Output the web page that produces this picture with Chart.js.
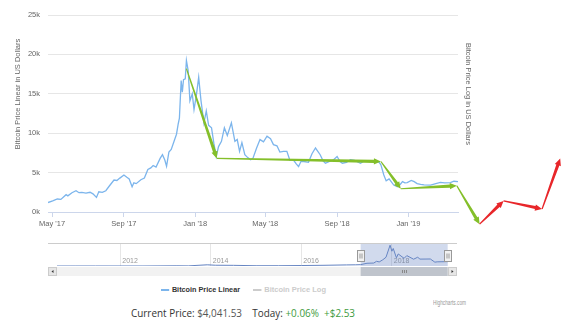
<!DOCTYPE html>
<html>
<head>
<meta charset="utf-8">
<script src="https://cdn.jsdelivr.net/npm/chart.js@4.4.1/dist/chart.umd.min.js"></script>
<style>
  body { margin: 0; background: #fff; width: 566px; height: 328px; overflow: hidden; position: relative;
         font-family: 'Liberation Sans', Arial, sans-serif; }
  canvas { position: absolute; left: 0; }
  #mainChart { top: 0; }
  #navChart { top: 240px; }
  .fit { position: absolute; white-space: nowrap; transform-origin: left center; }
  .legend-item { font-size: 8px; font-weight: bold; top: 285px; }
  .swatch { display: inline-block; width: 9px; height: 1.5px; vertical-align: middle; margin-right: 3px; }
  #credits { top: 299px; left: 433px; font-size: 7px; color: #999; }
  #price { top: 306px; left: 131px; font-family: 'Open Sans', sans-serif; font-size: 10.5px; color: #333; }
  #price .val { color: #555; }
  #price .up { color: #3e9b3e; }
</style>
</head>
<body>
<canvas id="mainChart" width="566" height="232"></canvas>
<canvas id="navChart" width="566" height="40"></canvas>
<div id="legend"></div>
<div id="credits" class="fit">Highcharts.com</div>
<div id="price" class="fit">Current Price: <span class="val">$4,041.53</span>&nbsp;&nbsp;&nbsp; Today: <span class="up">+0.06%&nbsp;&nbsp;+$2.53</span></div>
<script>
const priceDates = [
  '2017-04-24', '2017-05-02', '2017-05-10', '2017-05-16', '2017-05-25', '2017-05-28', '2017-06-04', '2017-06-11',
  '2017-06-16', '2017-06-21', '2017-06-28', '2017-07-05', '2017-07-10', '2017-07-16', '2017-07-20', '2017-07-26',
  '2017-08-01', '2017-08-07', '2017-08-15', '2017-08-20', '2017-08-25', '2017-09-01', '2017-09-06', '2017-09-10',
  '2017-09-15', '2017-09-18', '2017-09-22', '2017-09-30', '2017-10-06', '2017-10-12', '2017-10-17', '2017-10-21',
  '2017-10-26', '2017-11-02', '2017-11-06', '2017-11-10', '2017-11-13', '2017-11-17', '2017-11-21', '2017-11-26',
  '2017-11-30', '2017-12-03', '2017-12-05', '2017-12-08', '2017-12-10', '2017-12-12', '2017-12-15', '2017-12-17',
  '2017-12-20', '2017-12-23', '2017-12-27', '2017-12-30', '2018-01-03', '2018-01-07', '2018-01-11', '2018-01-16',
  '2018-01-20', '2018-01-24', '2018-01-29', '2018-02-02', '2018-02-06', '2018-02-10', '2018-02-15', '2018-02-20',
  '2018-02-25', '2018-03-04', '2018-03-10', '2018-03-14', '2018-03-18', '2018-03-22', '2018-03-27', '2018-04-01',
  '2018-04-06', '2018-04-10', '2018-04-16', '2018-04-22', '2018-04-28', '2018-05-04', '2018-05-10', '2018-05-15',
  '2018-05-21', '2018-05-26', '2018-06-01', '2018-06-07', '2018-06-12', '2018-06-18', '2018-06-23', '2018-06-27',
  '2018-07-01', '2018-07-06', '2018-07-14', '2018-07-20', '2018-07-26', '2018-08-03', '2018-08-08', '2018-08-12',
  '2018-08-18', '2018-08-26', '2018-09-01', '2018-09-06', '2018-09-10', '2018-09-17', '2018-09-24', '2018-10-01',
  '2018-10-11', '2018-10-18', '2018-10-28', '2018-11-06', '2018-11-12', '2018-11-15', '2018-11-20', '2018-11-24',
  '2018-11-29', '2018-12-07', '2018-12-13', '2018-12-18', '2018-12-22', '2018-12-26', '2018-12-30', '2019-01-06',
  '2019-01-11', '2019-01-16', '2019-01-22', '2019-01-28', '2019-02-08', '2019-02-17', '2019-02-25', '2019-03-04',
  '2019-03-14', '2019-03-20', '2019-03-27'
];
const priceValues = [
  1200, 1400, 1650, 1600, 2200, 2050, 2450, 2700,
  2450, 2500, 2400, 2500, 2300, 1850, 2560, 2500,
  2700, 3300, 4060, 4000, 4300, 4700, 4400, 4200,
  3200, 3700, 3600, 4100, 4300, 5400, 5600, 5900,
  5700, 6800, 7270, 6600, 5800, 7600, 7950, 9000,
  9870, 11200, 11900, 16670, 15200, 16800, 16900, 19230,
  17950, 14100, 15000, 13000, 14800, 17090, 14100, 11300,
  12820, 11000, 10680, 8700, 7050, 8300, 8970, 10680,
  9700, 11320, 8970, 9200, 7690, 8800, 7270, 6900,
  6630, 6830, 8100, 9190, 8900, 9620, 9300, 8550,
  8400, 7600, 7690, 7700, 6600, 6630, 6100, 5770,
  6400, 6410, 6300, 7400, 8120, 7270, 6500, 6190,
  6400, 6630, 7050, 6400, 6190, 6300, 6630, 6550,
  6190, 6500, 6410, 6450, 6300, 5990, 4700, 3950,
  4200, 3420, 3200, 3500, 3850, 3700, 3720, 4000,
  3850, 3600, 3500, 3450, 3420, 3600, 3760, 3700,
  3720, 3900, 3850
];

const xTickDates = ['2017-05-01', '2017-09-01', '2018-01-01', '2018-05-01', '2018-09-01', '2019-01-01'];
const xTickLabels = ["May '17", "Sep '17", "Jan '18", "May '18", "Sep '18", "Jan '19"];
const yTickValues = [0, 5000, 10000, 15000, 20000, 25000];

// hand drawn trend arrows, one colour per segment
const trendDates = ['2017-12-17', '2018-02-07', '2018-11-15', '2018-12-19', '2019-03-25', '2019-05-03', '2019-06-13', '2019-08-18', '2019-09-18'];
const trendValues = [18200, 6800, 6410, 2950, 3330, -1540, 1410, 385, 6790];
const trendColors = ['#84bf2a', '#84bf2a', '#84bf2a', '#84bf2a', '#84bf2a', '#e8262a', '#e8262a', '#e8262a'];

// navigator: whole history, fractional years
const navYears = [2010.6, 2011.0, 2011.45, 2012.5, 2013.25, 2013.5, 2013.92, 2014.1, 2014.5, 2015.0, 2015.5, 2016.0, 2016.5,
  2017.0, 2017.2, 2017.31, 2017.45, 2017.6, 2017.66, 2017.72, 2017.8, 2017.87, 2017.96, 2018.0, 2018.03, 2018.1,
  2018.14, 2018.27, 2018.33, 2018.48, 2018.57, 2018.62, 2018.85, 2018.95, 2019.0, 2019.24];
const navValues = [0, 1, 25, 10, 200, 100, 1100, 700, 600, 250, 260, 430, 650,
  1000, 1100, 1250, 2500, 2700, 4300, 3700, 5700, 8000, 19000, 13500, 16000, 7500,
  11000, 7000, 9500, 6200, 8000, 6300, 6400, 3500, 3800, 4000];
const navTickYears = [2012, 2014, 2016, 2018];

const leftTitle = 'Bitcoin Price Linear in US Dollars';
const rightTitle = 'Bitcoin Price Log in US Dollars';

Chart.defaults.font.family = "'Liberation Sans', Arial, sans-serif";

const toYear = (s) => {
  const d = Date.parse(s);
  const y = new Date(d).getUTCFullYear();
  const start = Date.UTC(y, 0, 1);
  return y + (d - start) / (Date.UTC(y + 1, 0, 1) - start);
};

const drawArrow = (ctx, x0, y0, x1, y1, color) => {
  const len = Math.hypot(x1 - x0, y1 - y0);
  const ux = (x1 - x0) / len, uy = (y1 - y0) / len;
  const nx = -uy, ny = ux;
  const head = 7, headW = 3.2, w0 = 0.6, w1 = 1.6;
  const bx = x1 - ux * head, by = y1 - uy * head;
  ctx.fillStyle = color;
  ctx.beginPath();
  ctx.moveTo(x0 + nx * w0, y0 + ny * w0);
  ctx.lineTo(bx + nx * w1, by + ny * w1);
  ctx.lineTo(bx + nx * headW, by + ny * headW);
  ctx.lineTo(x1, y1);
  ctx.lineTo(bx - nx * headW, by - ny * headW);
  ctx.lineTo(bx - nx * w1, by - ny * w1);
  ctx.lineTo(x0 - nx * w0, y0 - ny * w0);
  ctx.closePath();
  ctx.fill();
};

const trendPlugin = {
  id: 'trendArrows',
  afterDatasetsDraw(chart) {
    const { ctx, scales: { x, y } } = chart;
    ctx.save();
    for (let i = 0; i < trendColors.length; i++) {
      drawArrow(ctx,
        x.getPixelForValue(Date.parse(trendDates[i])), y.getPixelForValue(trendValues[i]),
        x.getPixelForValue(Date.parse(trendDates[i + 1])), y.getPixelForValue(trendValues[i + 1]),
        trendColors[i]);
    }
    ctx.restore();
  }
};

const axisTitles = {
  id: 'axisTitles',
  afterDraw(chart) {
    const { ctx, chartArea } = chart;
    const cy = 94;
    ctx.save();
    ctx.font = "7.5px 'Liberation Sans', Arial, sans-serif";
    ctx.fillStyle = '#666';
    ctx.textAlign = 'center';
    ctx.textBaseline = 'middle';
    ctx.translate(18, cy);
    ctx.rotate(-Math.PI / 2);
    ctx.fillText(leftTitle, 0, 0, 112);
    ctx.setTransform(1, 0, 0, 1, 0, 0);
    ctx.translate(chartArea.right + 10, cy);
    ctx.rotate(Math.PI / 2);
    ctx.fillText(rightTitle, 0, 0, 102);
    ctx.restore();
  }
};

const mainChart = new Chart(document.getElementById('mainChart'), {
  type: 'line',
  data: {
    datasets: [{
      label: 'Bitcoin Price Linear',
      data: priceDates.map((d, i) => ({ x: Date.parse(d), y: priceValues[i] })),
      borderColor: '#7cb5ec',
      borderWidth: 1.3,
      pointRadius: 0,
      fill: false
    }, {
      label: 'Bitcoin Price Log',
      data: [],
      borderColor: '#cccccc',
      hidden: true
    }]
  },
  options: {
    responsive: false,
    animation: false,
    layout: { padding: { top: 15, right: 108, bottom: 2, left: 0 } },
    plugins: { legend: { display: false }, tooltip: { enabled: false } },
    scales: {
      x: {
        type: 'linear',
        min: Date.parse(priceDates[0]),
        max: Date.parse(priceDates[priceDates.length - 1]),
        afterBuildTicks: (s) => { s.ticks = xTickDates.map(d => ({ value: Date.parse(d) })); },
        ticks: {
          callback: (v, i) => xTickLabels[i],
          color: '#666',
          font: { size: 7.5 },
          padding: 2,
          maxRotation: 0,
          autoSkip: false
        },
        grid: { drawOnChartArea: false, drawTicks: true, tickLength: 5, color: '#ccd6eb' },
        border: { color: '#ccd6eb' }
      },
      y: {
        min: 0,
        max: 25000,
        afterBuildTicks: (s) => { s.ticks = yTickValues.map(v => ({ value: v })); },
        ticks: { callback: (v) => (v / 1000) + 'k', color: '#666', font: { size: 7.5 }, padding: 8 },
        grid: { color: '#e6e6e6', drawTicks: false },
        border: { display: false },
        afterFit: (s) => { s.width = 48; }
      }
    }
  },
  plugins: [trendPlugin, axisTitles]
});

const navigatorPlugin = {
  id: 'navigator',
  afterDatasetsDraw(chart) {
    const { ctx, chartArea: a, scales: { x } } = chart;
    const x0 = x.getPixelForValue(toYear(priceDates[0]));
    const x1 = x.getPixelForValue(toYear(priceDates[priceDates.length - 1]));
    const left = a.left - 9, right = a.right + 9;
    ctx.save();
    // selected range
    ctx.fillStyle = 'rgba(102,133,194,0.3)';
    ctx.fillRect(x0, a.top, x1 - x0, a.bottom - a.top);
    ctx.strokeStyle = '#cccccc';
    ctx.lineWidth = 1;
    ctx.beginPath();
    ctx.moveTo(left, a.top + 0.5);
    ctx.lineTo(right, a.top + 0.5);
    ctx.stroke();
    // handles
    [x0, x1].forEach(h => {
      const hx = Math.round(h) - 3.5, hy = a.top + 7.5;
      ctx.fillStyle = '#f2f2f2';
      ctx.strokeStyle = '#999';
      ctx.fillRect(hx, hy, 7, 11);
      ctx.strokeRect(hx, hy, 7, 11);
      ctx.beginPath();
      ctx.moveTo(hx + 2.5, hy + 3); ctx.lineTo(hx + 2.5, hy + 8);
      ctx.moveTo(hx + 4.5, hy + 3); ctx.lineTo(hx + 4.5, hy + 8);
      ctx.stroke();
    });
    // scrollbar
    const sy = a.bottom + 1, sh = 9;
    ctx.fillStyle = '#f2f2f2';
    ctx.fillRect(left, sy, right - left, sh);
    ctx.fillStyle = '#bfc4cc';
    ctx.fillRect(x0, sy, x1 - x0, sh);
    ctx.strokeStyle = '#888';
    const gx = Math.round((x0 + x1) / 2) + 0.5;
    ctx.beginPath();
    [-2, 0, 2].forEach(o => { ctx.moveTo(gx + o, sy + 3); ctx.lineTo(gx + o, sy + 6); });
    ctx.stroke();
    [[left, 1], [right - 9, -1]].forEach(([bx, dir]) => {
      ctx.fillStyle = '#e6e6e6';
      ctx.strokeStyle = '#cccccc';
      ctx.fillRect(bx, sy, 9, sh);
      ctx.strokeRect(bx + 0.5, sy + 0.5, 8, sh - 1);
      ctx.fillStyle = '#333';
      const cx = bx + 4.5, cy = sy + sh / 2;
      ctx.beginPath();
      ctx.moveTo(cx - 1 * dir, cy);
      ctx.lineTo(cx + 1 * dir, cy - 1.5);
      ctx.lineTo(cx + 1 * dir, cy + 1.5);
      ctx.closePath();
      ctx.fill();
    });
    ctx.restore();
  }
};

new Chart(document.getElementById('navChart'), {
  type: 'line',
  data: {
    datasets: [{
      data: navYears.map((t, i) => ({ x: t, y: navValues[i] })),
      borderColor: '#6685c2',
      borderWidth: 1,
      pointRadius: 0,
      fill: 'origin',
      backgroundColor: 'rgba(51,92,173,0.05)'
    }]
  },
  options: {
    responsive: false,
    animation: false,
    layout: { padding: { top: 3, left: 57, right: 118, bottom: 0 } },
    plugins: { legend: { display: false }, tooltip: { enabled: false } },
    scales: {
      x: {
        type: 'linear',
        min: navYears[0],
        max: navYears[navYears.length - 1],
        afterBuildTicks: (s) => { s.ticks = navTickYears.map(v => ({ value: v })); },
        // mirrored so the year labels sit inside the navigator, like the original
        ticks: { align: 'start', mirror: true, padding: 1, color: '#999', font: { size: 7 }, callback: (v) => ' ' + v, maxRotation: 0, autoSkip: false },
        grid: { color: '#e6e6e6', drawTicks: false },
        border: { display: false },
        afterFit: (s) => { s.height = 14; }
      },
      y: { display: false, min: 0, max: 21000 }
    }
  },
  plugins: [navigatorPlugin]
});

// legend built from the main chart's datasets
const legendPos = [[161, 67], [253, 61]];
mainChart.data.datasets.forEach((ds, i) => {
  const el = document.createElement('div');
  el.className = 'fit legend-item';
  el.style.left = legendPos[i][0] + 'px';
  el.style.color = ds.hidden ? '#cccccc' : '#333';
  el.innerHTML = `<span class="swatch" style="background:${ds.hidden ? '#cccccc' : ds.borderColor}"></span>`;
  const txt = document.createElement('span');
  txt.textContent = ds.label;
  el.appendChild(txt);
  document.getElementById('legend').appendChild(el);
  el.style.transform = `scaleX(${(legendPos[i][1] + 12) / el.getBoundingClientRect().width})`;
});

const fitWidth = (id, w) => {
  const el = document.getElementById(id);
  el.style.transform = `scaleX(${w / el.getBoundingClientRect().width})`;
};
fitWidth('credits', 33);
fitWidth('price', 224);
</script>
</body>
</html>
